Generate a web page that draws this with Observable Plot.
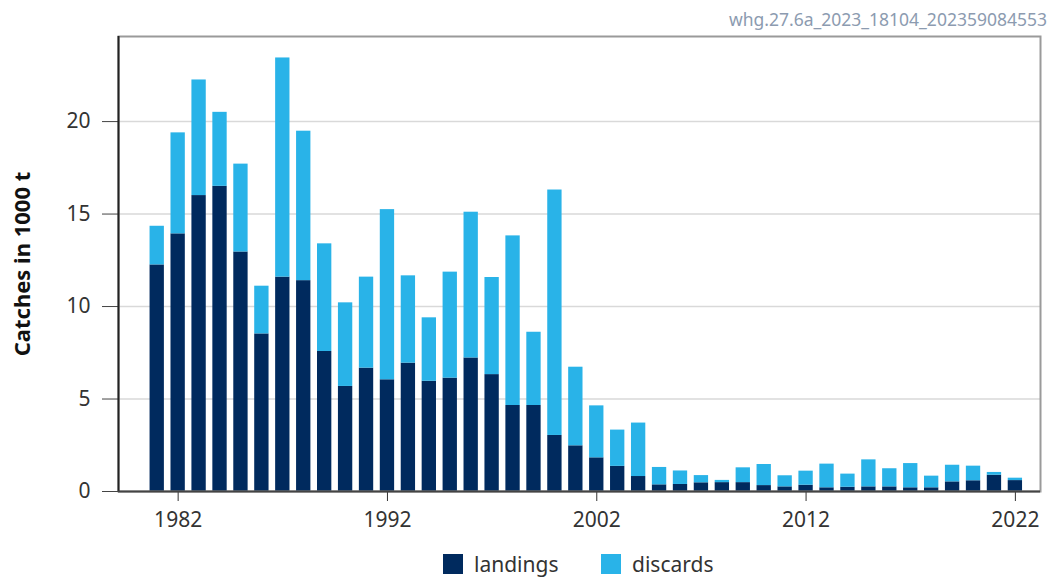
<!DOCTYPE html>
<html>
<head>
<meta charset="utf-8">
<script src="https://cdn.jsdelivr.net/npm/d3@7"></script>
<script src="https://cdn.jsdelivr.net/npm/@observablehq/plot@0.6"></script>
<style>
  html, body { margin: 0; padding: 0; background: #fff; overflow: hidden; }
  body { width: 1051px; height: 579px; position: relative; font-family: "Noto Sans", sans-serif; }
  #id { position: absolute; right: 4px; top: 7px; font-size: 17.5px; color: #8c9bb0; }
  #chart { position: absolute; left: 0; top: 0; }
  #chart svg g[aria-label="y-axis label"] text { font-weight: bold; fill: #111; font-size: 22px; }
  .leg { position: absolute; top: 550px; display: flex; align-items: center; font-size: 21px; color: #333; }
  .sw { width: 20px; height: 20px; margin-right: 11px; }
</style>
</head>
<body>
<div id="chart"></div>
<div id="id">whg.27.6a_2023_18104_202359084553</div>
<div class="leg" style="left:443px"><div class="sw" style="background:#002a5e"></div>landings</div>
<div class="leg" style="left:601px"><div class="sw" style="background:#29b3e8"></div>discards</div>
<script>
const years = d3.range(1981, 2023);
const landings = [12.25, 13.93, 16.0, 16.5, 12.95, 8.52, 11.59, 11.4, 7.57, 5.68,
  6.67, 6.04, 6.94, 5.96, 6.13, 7.22, 6.32, 4.65, 4.65, 3.03,
  2.47, 1.82, 1.36, 0.81, 0.36, 0.38, 0.47, 0.48, 0.48, 0.32,
  0.25, 0.34, 0.2, 0.23, 0.25, 0.25, 0.2, 0.2, 0.52, 0.58,
  0.88, 0.59];
const totals = [14.34, 19.39, 22.25, 20.5, 17.7, 11.1, 23.44, 19.48, 13.39, 10.2,
  11.59, 15.24, 11.66, 9.39, 11.86, 15.1, 11.57, 13.82, 8.61, 16.3,
  6.72, 4.63, 3.32, 3.7, 1.3, 1.11, 0.86, 0.6, 1.28, 1.46,
  0.85, 1.1, 1.48, 0.94, 1.71, 1.23, 1.51, 0.83, 1.42, 1.37,
  1.03, 0.72];
const xTicks = [1982, 1992, 2002, 2012, 2022];
const yTicks = [0, 5, 10, 15, 20];

const rows = years.map((year, i) => ({year, landings: landings[i], total: totals[i]}));

const chart = Plot.plot({
  width: 1051,
  height: 545,
  marginTop: 36,
  marginBottom: 54,
  marginLeft: 118,
  marginRight: 11,
  style: {fontFamily: "Noto Sans, sans-serif", fontSize: "21px", color: "#333"},
  x: {domain: [1979.15, 2023.2], label: null},
  y: {domain: [0, 24.6], label: null},
  marks: [
    Plot.gridY(yTicks.filter(d => d > 0), {stroke: "#d9d9d9", strokeOpacity: 1, strokeWidth: 1.5}),
    Plot.rect(rows, {x1: d => d.year - 0.5, x2: d => d.year + 0.5, y1: 0, y2: "landings", fill: "#002a5e", insetLeft: 3.3, insetRight: 3.3}),
    Plot.rect(rows, {x1: d => d.year - 0.5, x2: d => d.year + 0.5, y1: "landings", y2: "total", fill: "#29b3e8", insetLeft: 3.3, insetRight: 3.3}),
    Plot.frame({stroke: "#9a9a9a", strokeWidth: 2}),
    Plot.axisX({ticks: xTicks, tickFormat: d => String(d), tickSize: 10, tickPadding: 11, stroke: "#333", label: null}),
    Plot.axisY({ticks: yTicks, tickSize: 16, tickPadding: 12, stroke: "#444", label: "Catches in 1000 t", labelArrow: false, labelAnchor: "center", labelOffset: 104}),
    Plot.ruleX([1979.15], {stroke: "#222", strokeWidth: 2}),
    Plot.ruleY([0], {stroke: "#444", strokeWidth: 2})
  ]
});
document.getElementById("chart").appendChild(chart);
</script>
</body>
</html>
